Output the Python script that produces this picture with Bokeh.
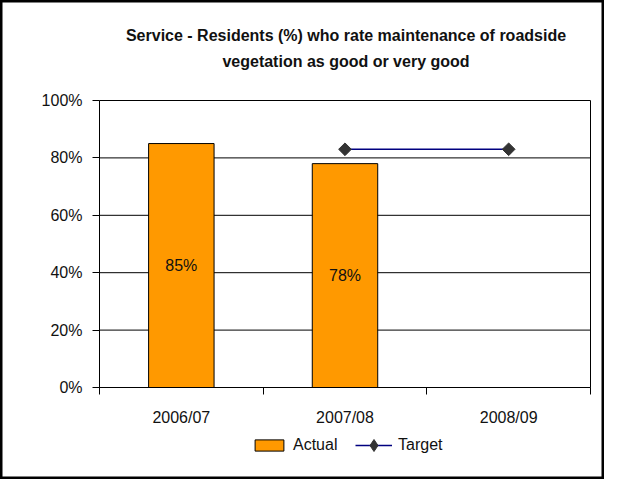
import math
from bokeh.plotting import figure
from bokeh.models import (ColumnDataSource, Range1d, FixedTicker, NumeralTickFormatter,
                          Legend, LegendItem, Label, LinearAxis)
from bokeh.embed import file_html
from bokeh.resources import INLINE

categories = ["2006/07", "2007/08", "2008/09"]
actual = [0.85, 0.78, float("nan")]
target = [float("nan"), 0.83, 0.83]
y_ticks = [0.0, 0.2, 0.4, 0.6, 0.8, 1.0]
title_lines = ["Service - Residents (%) who rate maintenance of roadside",
               "vegetation as good or very good"]
series_names = ["Actual", "Target"]

FONT = "Liberation Sans"
TXT = "#111111"

# layout (pixels)
W, H = 604, 479
FL, FR, FT, FB = 99, 590, 100, 387      # plot-area edges

n = len(categories)
xs = [i + 0.5 for i in range(n)]
xpx = (FR - FL) / n
ypx = (FB - FT) / 1.0

p = figure(width=W, height=H, output_backend="svg", toolbar_location=None,
           x_range=Range1d(-FL / xpx, n + (W - FR) / xpx),
           y_range=Range1d(-(H - FB) / ypx, 1 + FT / ypx),
           x_axis_location=None, y_axis_location=None,
           min_border=0, min_border_left=0, min_border_right=0,
           min_border_top=0, min_border_bottom=0)
p.xgrid.visible = False
p.ygrid.visible = False
p.outline_line_color = "black"
p.outline_line_width = 4
p.background_fill_color = "white"
p.border_fill_color = "white"

# horizontal gridlines (also top/bottom of plot area)
p.segment(x0=[0] * len(y_ticks), x1=[n] * len(y_ticks), y0=y_ticks, y1=y_ticks,
          line_color="black", line_width=1)

# bars
bx = [x for x, v in zip(xs, actual) if not math.isnan(v)]
bv = [v for v in actual if not math.isnan(v)]
bar_src = ColumnDataSource(dict(x=bx, top=bv, mid=[v / 2 for v in bv],
                                lab=[f"{round(v * 100)}%" for v in bv]))
bars = p.vbar(x="x", top="top", width=0.40, source=bar_src, fill_color="#FF9900",
              line_color="black", line_width=1)
p.text(x="x", y="mid", text="lab", source=bar_src, text_align="center",
       text_baseline="middle", text_font_size="16px", text_font={"value": FONT},
       text_color=TXT)

# target
tsrc = ColumnDataSource(dict(x=xs, y=target))
tl = p.line("x", "y", source=tsrc, line_color="#000080", line_width=1.5)
ts = p.scatter("x", "y", source=tsrc, marker="square", size=9, angle=math.pi / 4,
               fill_color="#333333", line_color="#333333")
# legend-only diamond (same data, hidden in the plot)
ts_leg = p.scatter("x", "y", source=tsrc, marker="diamond", size=12,
                   fill_color="#333333", line_color="#333333", visible=False)

# axes
yaxis = LinearAxis(fixed_location=0, bounds=(0, 1), ticker=FixedTicker(ticks=y_ticks),
                   formatter=NumeralTickFormatter(format="0%"),
                   major_tick_in=0, major_tick_out=7, minor_tick_line_color=None,
                   major_label_text_font=FONT, major_label_text_font_size="16px",
                   major_label_text_color=TXT, major_label_standoff=10,
                   axis_line_color="black")
p.add_layout(yaxis, "left")

raxis = LinearAxis(fixed_location=n, bounds=(0, 1), ticker=FixedTicker(ticks=[]),
                   major_tick_line_color=None, minor_tick_line_color=None,
                   major_label_text_alpha=0, axis_line_color="black")
p.add_layout(raxis, "right")

xaxis = LinearAxis(fixed_location=0, bounds=(0, n),
                   ticker=FixedTicker(ticks=xs, minor_ticks=list(range(n + 1))),
                   major_label_overrides={x: c for x, c in zip(xs, categories)},
                   major_tick_line_color=None, major_tick_in=0, major_tick_out=7,
                   minor_tick_in=0, minor_tick_out=7, minor_tick_line_color="black",
                   major_label_text_font=FONT, major_label_text_font_size="16px",
                   major_label_text_color=TXT, major_label_standoff=14,
                   axis_line_color="black")
p.add_layout(xaxis, "below")

# title (two lines)
for line, ty in zip(title_lines, [35, 61]):
    p.add_layout(Label(x=(FL + FR) / 2 + 1, y=H - ty, x_units="screen", y_units="screen",
                       text=line, text_align="center", text_baseline="middle",
                       text_font=FONT, text_font_size="16px", text_font_style="bold",
                       text_color=TXT))

common = dict(orientation="horizontal", label_text_font=FONT, label_text_font_size="16px",
              label_text_color=TXT, label_standoff=6, margin=0, padding=0,
              border_line_color=None, background_fill_alpha=0)
leg_a = Legend(items=[LegendItem(label=series_names[0], renderers=[bars])],
               location=(251, 25), glyph_width=36, glyph_height=14, **common)
leg_t = Legend(items=[LegendItem(label=series_names[1], renderers=[tl, ts_leg])],
               location=(355, 19), glyph_width=37, glyph_height=30, **common)
p.add_layout(leg_a, "center")
p.add_layout(leg_t, "center")

open("out.html", "w").write(file_html(p, INLINE))
